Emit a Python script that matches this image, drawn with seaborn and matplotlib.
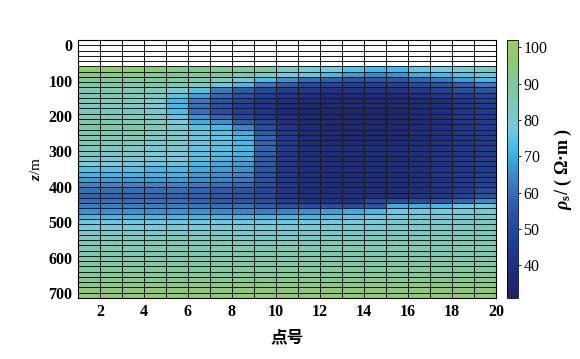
import numpy as np
import matplotlib
matplotlib.use('Agg')
import matplotlib.pyplot as plt
import seaborn as sns
from matplotlib.colors import LinearSegmentedColormap, ListedColormap

# apparent resistivity (ohm*m), one list per layer, columns = point 1..19 (cells between 1 and 20)
rho_upper = [
    [97, 97, 96, 94, 93, 92, 91, 90, 88, 82, 80, 78, 74, 72, 72, 76, 78, 80, 82],
    [94, 93, 93, 91, 90, 89, 88, 86, 82, 78, 76, 72, 68, 65, 66, 70, 72, 74, 76],
    [91, 90, 90, 89, 88, 87, 85, 80, 73, 66, 60, 57, 55, 55, 55, 58, 62, 68, 72],
    [87, 87, 86, 86, 84, 82, 76, 72, 62, 56, 50, 48, 47, 47, 47, 50, 54, 57, 62],
    [85, 85, 85, 84, 80, 74, 62, 56, 50, 46, 44, 42, 42, 42, 42, 44, 48, 52, 54],
    [84, 84, 83, 82, 75, 68, 58, 52, 46, 42, 40, 38, 38, 38, 38, 40, 43, 46, 48],
    [83, 83, 82, 80, 72, 62, 54, 48, 44, 40, 37, 36, 36, 36, 36, 38, 41, 44, 46],
    [83, 83, 82, 80, 72, 60, 52, 46, 42, 38, 36, 35, 35, 35, 35, 37, 40, 43, 45],
    [83, 83, 82, 80, 73, 60, 52, 46, 42, 38, 36, 35, 35, 35, 35, 37, 40, 43, 45],
    [85, 85, 84, 82, 76, 66, 58, 50, 44, 40, 36, 35, 35, 35, 35, 37, 40, 43, 45],
    [86, 86, 85, 84, 78, 70, 66, 56, 48, 40, 37, 36, 35, 35, 35, 37, 40, 43, 45],
]
rho_middle = [
    [86, 86, 86, 84, 80, 74, 72, 64, 52, 42, 38, 36, 36, 36, 36, 38, 40, 43, 45],
    [86, 86, 86, 82, 82, 76, 74, 70, 56, 44, 38, 37, 36, 36, 36, 38, 41, 43, 45],
    [85, 85, 85, 82, 82, 76, 75, 72, 58, 45, 39, 37, 37, 37, 37, 38, 41, 43, 45],
    [84, 84, 83, 80, 80, 76, 75, 72, 58, 45, 39, 38, 38, 38, 38, 39, 41, 43, 45],
    [83, 83, 82, 80, 80, 75, 74, 72, 58, 45, 40, 39, 39, 39, 39, 40, 42, 44, 46],
    [82, 82, 81, 79, 79, 74, 73, 71, 57, 44, 40, 39, 39, 39, 39, 40, 42, 44, 46],
    [80, 80, 80, 78, 78, 74, 72, 70, 56, 44, 40, 39, 39, 39, 39, 40, 42, 44, 46],
    [78, 78, 77, 76, 76, 72, 70, 68, 56, 44, 40, 39, 39, 39, 39, 40, 42, 44, 46],
    [74, 74, 74, 72, 72, 70, 68, 66, 55, 44, 40, 39, 39, 39, 39, 40, 42, 44, 46],
    [71, 71, 71, 71, 71, 68, 66, 64, 54, 44, 40, 39, 39, 39, 39, 40, 42, 44, 46],
    [68, 68, 68, 68, 68, 66, 64, 62, 53, 44, 40, 39, 39, 39, 39, 40, 42, 44, 47],
]
rho_lower = [
    [64, 64, 64, 64, 64, 62, 60, 58, 52, 44, 40, 39, 39, 39, 39, 40, 42, 44, 48],
    [60, 60, 60, 60, 60, 58, 56, 55, 50, 44, 40, 39, 39, 39, 39, 40, 42, 45, 50],
    [58, 58, 58, 58, 58, 57, 55, 54, 50, 44, 41, 40, 40, 40, 40, 42, 44, 48, 54],
    [60, 60, 60, 60, 60, 58, 56, 55, 52, 47, 42, 42, 42, 50, 52, 52, 55, 58, 65],
    [63, 63, 63, 63, 63, 62, 60, 60, 57, 54, 52, 52, 52, 55, 70, 70, 72, 76, 77],
    [66, 66, 66, 66, 66, 66, 65, 64, 63, 64, 66, 68, 70, 72, 77, 77, 78, 79, 80],
    [72, 72, 72, 72, 72, 72, 72, 72, 72, 72, 72, 74, 75, 77, 78, 78, 79, 80, 81],
    [77, 77, 77, 77, 77, 77, 77, 77, 77, 77, 77, 78, 78, 79, 80, 80, 80, 81, 82],
    [79, 79, 79, 79, 79, 79, 79, 79, 79, 79, 79, 80, 80, 80, 81, 81, 82, 82, 83],
    [81, 81, 81, 81, 81, 81, 81, 81, 81, 81, 81, 81, 81, 82, 82, 82, 83, 83, 83],
    [83, 83, 83, 83, 83, 83, 83, 82, 82, 82, 82, 82, 82, 83, 83, 83, 83, 84, 84],
    [84, 84, 84, 84, 84, 84, 84, 84, 84, 84, 84, 84, 84, 84, 84, 84, 84, 84, 85],
]
rho_deep = [
    [85, 85, 85, 85, 85, 85, 85, 85, 85, 85, 85, 85, 85, 85, 85, 85, 85, 85, 85],
    [86, 86, 86, 86, 86, 86, 86, 86, 86, 86, 86, 86, 86, 86, 86, 86, 86, 86, 86],
    [87, 87, 87, 87, 87, 87, 87, 87, 87, 87, 87, 87, 87, 87, 87, 87, 87, 87, 87],
    [88, 88, 88, 88, 88, 88, 88, 88, 88, 88, 88, 88, 88, 88, 88, 88, 88, 88, 88],
    [89, 89, 89, 89, 89, 89, 89, 89, 89, 89, 89, 89, 89, 89, 89, 89, 89, 89, 89],
    [90, 90, 90, 90, 90, 90, 90, 90, 90, 90, 90, 90, 90, 90, 90, 90, 90, 90, 90],
    [92, 92, 92, 92, 92, 92, 92, 92, 92, 92, 92, 92, 92, 92, 92, 92, 92, 92, 92],
    [94, 94, 94, 94, 94, 94, 94, 94, 94, 94, 94, 94, 94, 94, 94, 94, 94, 94, 94],
    [96, 96, 96, 96, 96, 96, 96, 96, 96, 96, 96, 96, 96, 96, 96, 96, 96, 96, 96],
    [98, 98, 98, 98, 98, 98, 98, 98, 98, 98, 98, 98, 98, 98, 98, 98, 98, 98, 98],
]

n_blank = 5          # empty layers above the model
z_top = -14.5        # depth of first layer edge (m)
dz = 14.87           # layer thickness (m)

xtick_vals = [2, 4, 6, 8, 10, 12, 14, 16, 18, 20]
ytick_vals = [0, 100, 200, 300, 400, 500, 600, 700]
cbar_ticks = [40, 50, 60, 70, 80, 90, 100]

plt.rcParams['font.family'] = ['Liberation Serif', 'Noto Sans CJK SC']
plt.rcParams['mathtext.fontset'] = 'custom'
plt.rcParams['mathtext.it'] = 'Liberation Serif:italic:bold'
plt.rcParams['mathtext.rm'] = 'Liberation Serif:bold'

vmin, vmax = 31, 102
nodes = [(31, '#1f2463'), (38, '#1d2b7e'), (45, '#1f3a92'), (55, '#2c55a8'),
         (62, '#3a78c4'), (68, '#3b9ed9'), (72, '#3fbdeb'), (78, '#74cbe0'),
         (84, '#7cc9b6'), (90, '#80c799'), (96, '#8fc978'), (102, '#9dcc66')]
cmap = LinearSegmentedColormap.from_list(
    'rho', [((v - vmin) / (vmax - vmin), c) for v, c in nodes])

rho = np.array(rho_upper + rho_middle + rho_lower + rho_deep, dtype=float)
grid = np.vstack([np.full((n_blank, rho.shape[1]), np.nan), rho])
blank = np.where(np.isnan(grid), 0.0, np.nan)

W, H = 580, 359
fig = plt.figure(figsize=(W / 100, H / 100), dpi=100)
ax = fig.add_axes([78 / W, 1 - 298 / H, 418 / W, 258 / H])
cax = fig.add_axes([507 / W, 1 - 298 / H, 11 / W, 258 / H])

lw, lc = 0.55, '#1a1a1a'
sns.heatmap(grid, ax=ax, cmap=cmap, vmin=vmin, vmax=vmax, linewidths=lw,
            linecolor=lc, cbar_ax=cax, xticklabels=False, yticklabels=False,
            cbar_kws={'ticks': cbar_ticks})
sns.heatmap(blank, ax=ax, cmap=ListedColormap(['white']), cbar=False,
            linewidths=lw, linecolor=lc, xticklabels=False, yticklabels=False)

ax.set_xticks([v - 1 for v in xtick_vals])
ax.set_xticklabels([str(v) for v in xtick_vals], fontsize=11.5, fontweight='bold')
ax.set_yticks([(z - z_top) / dz for z in ytick_vals])
ax.set_yticklabels([str(v) for v in ytick_vals], fontsize=11.5, fontweight='bold')
ax.tick_params(length=0, pad=4)
for s in ax.spines.values():
    s.set_visible(True)
    s.set_color('black')
    s.set_linewidth(0.8)

ax.set_xlabel('点号', fontsize=12, fontweight='bold', labelpad=8)
ax.set_ylabel(r'$z$/m', fontsize=11, labelpad=4)

cb = ax.collections[0].colorbar
cb.outline.set_linewidth(0.6)
cax.tick_params(labelsize=11.5, length=2, width=0.6, pad=2)
cb.set_label(r'$\rho_{\mathrm{s}}$/ ( Ω·m )', fontsize=13, fontweight='bold', labelpad=4)

fig.savefig('out.png', dpi=100)
